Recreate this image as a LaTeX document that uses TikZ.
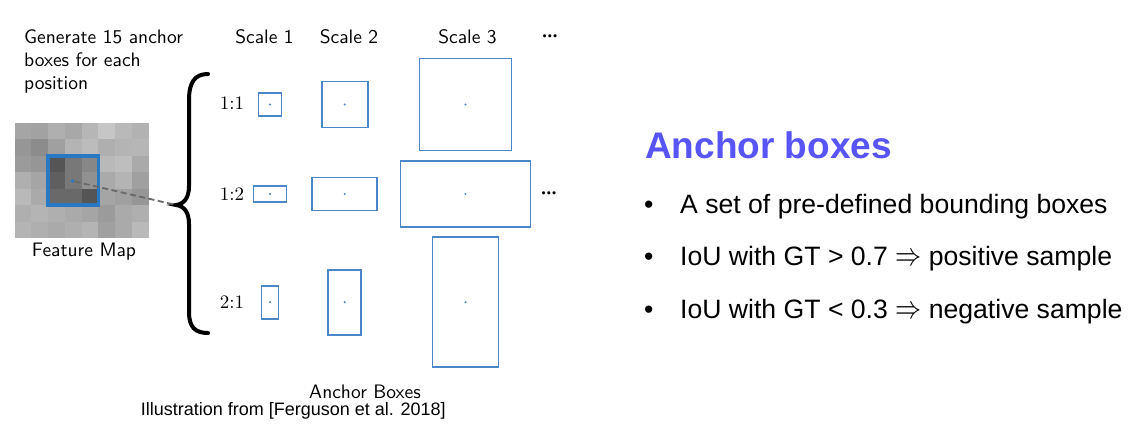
\documentclass[tikz,border=0pt]{standalone}
\usepackage{fontspec}
\newfontfamily\arial{Liberation Sans}
\newfontfamily\lmsten{lmsans10-regular.otf}
\newfontfamily\lmrten{lmroman10-regular.otf}
\definecolor{boxblue}{RGB}{74,134,200}
\definecolor{selblue}{RGB}{40,120,195}
\definecolor{titleblue}{RGB}{88,84,246}
\definecolor{dashgray}{RGB}{105,105,105}
\newcommand{\bigimp}{\scalebox{1.05}[1.3]{$\Rightarrow$}}
\newcommand{\tightdots}{${\cdot}\mkern-1mu{\cdot}\mkern-1mu{\cdot}$}
\begin{document}
\begin{tikzpicture}[x=1pt,y=-1pt,
  abox/.style={draw=boxblue, line width=1.6pt, inner sep=0pt, outer sep=0pt, rectangle},
  ctr/.style={circle, fill=boxblue, inner sep=0pt, minimum size=2.4pt},
  lm/.style={font=\lmsten\fontsize{19.5}{23.4}\selectfont, inner sep=0pt},
  ratio/.style={font=\lmrten\fontsize{19}{22}\selectfont, inner sep=0pt, anchor=base},
  bul/.style={font=\arial\fontsize{26.6}{30}\selectfont, inner sep=0pt, anchor=base west}
]
\useasboundingbox[fill=white] (0,0) rectangle (1134,433);

% feature map
\foreach \r/\vals in {
  0/{165,162,175,168,182,198,185,178},
  1/{150,140,160,180,188,175,180,182},
  2/{155,150,85,120,135,185,190,170},
  3/{175,165,95,120,145,170,180,160},
  4/{185,170,105,105,85,165,160,150},
  5/{175,180,175,170,165,155,170,175},
  6/{180,175,170,175,180,160,170,185}}{
  \foreach \v [count=\c from 0] in \vals {
    \fill[fill={rgb,255:red,\v;green,\v;blue,\v}]
      ({14.7+\c*16.75},{123+\r*16.43}) rectangle ++(16.85,16.53);
  }
}
\node[draw=selblue, line width=3.5pt, inner sep=0pt, minimum width=50.3pt, minimum height=49.2pt] (sel) at (73.35,180.45) {};
\node[circle, fill=selblue, inner sep=0pt, minimum size=3.6pt] (fdot) at (72.5,181) {};
\node[lm, anchor=base] (fm) at (84,256.7) {Feature Map};

% brace
\coordinate (tip) at (176,205);
\draw[line width=4pt, line cap=round]
  (208,74) .. controls (195,74) and (189,82) .. (189,100) -- (189,186)
  .. controls (189,198) and (184,204) .. (tip)
  .. controls (184,206) and (189,212) .. (189,224) -- (189,312)
  .. controls (189,327) and (195,333) .. (208,333);
\draw[dashgray, line width=1.8pt, dash pattern=on 6pt off 3.5pt] (fdot) -- (tip);

% header texts
\node[lm, anchor=north west, align=left] (gen) at (24,29.2) {Generate 15 anchor\\boxes for each\\position};
\node[lm, anchor=base] (s1) at (264.5,43.5) {Scale 1};
\node[lm, anchor=base] (s2) at (349,43.5) {Scale 2};
\node[lm, anchor=base] (s3) at (467.5,43.5) {Scale 3};
\node[lm, font=\lmsten\fontsize{19.5}{23.4}\selectfont\boldmath] (hdots) at (550,36.5) {\tightdots};

% ratio labels
\node[ratio] (r1) at (232,110) {1:1};
\node[ratio] (r2) at (232,200.7) {1:2};
\node[ratio] (r3) at (232,308.3) {2:1};

% anchor boxes
\node[abox, minimum width=23pt, minimum height=23pt] (b11) at (270,104.5) {};
\node[abox, minimum width=46pt, minimum height=46pt] (b12) at (344.7,104.5) {};
\node[abox, minimum width=92pt, minimum height=92pt] (b13) at (465.5,104.5) {};
\node[abox, minimum width=33pt, minimum height=16.5pt] (b21) at (270,194) {};
\node[abox, minimum width=65pt, minimum height=33pt] (b22) at (344.7,194) {};
\node[abox, minimum width=130pt, minimum height=65.5pt] (b23) at (465.5,194) {};
\node[abox, minimum width=17pt, minimum height=33pt] (b31) at (270,302.2) {};
\node[abox, minimum width=33pt, minimum height=65pt] (b32) at (344.7,302.2) {};
\node[abox, minimum width=65.7pt, minimum height=130pt] (b33) at (465.5,302.2) {};
\foreach \b in {b11,b12,b13,b21,b22,b23,b31,b32,b33}
  \node[ctr] (d\b) at (\b.center) {};
\node[lm, font=\lmsten\fontsize{19.5}{23.4}\selectfont\boldmath] (rdots) at (549,194) {\tightdots};

% captions
\node[lm, anchor=base] (ab) at (365,398.3) {Anchor Boxes};
\node[font=\arial\fontsize{18}{21}\selectfont, inner sep=0pt, anchor=base] (ill) at (293.3,415) {Illustration from [Ferguson et al. 2018]};

% right side
\node[font=\arial\bfseries\fontsize{37}{44}\selectfont, text=titleblue, inner sep=0pt, anchor=base west] (title) at (645,158.3) {Anchor boxes};
\node[bul] (u1) at (644,213.5) {\textbullet};
\node[bul] (t1) at (680,213.5) {A set of pre-defined bounding boxes};
\node[bul] (u2) at (644,265.7) {\textbullet};
\node[bul] (t2) at (680,265.7) {IoU with GT > 0.7 \bigimp{} positive sample};
\node[bul] (u3) at (644,318) {\textbullet};
\node[bul] (t3) at (680,318) {IoU with GT < 0.3 \bigimp{} negative sample};
\end{tikzpicture}
\end{document}
